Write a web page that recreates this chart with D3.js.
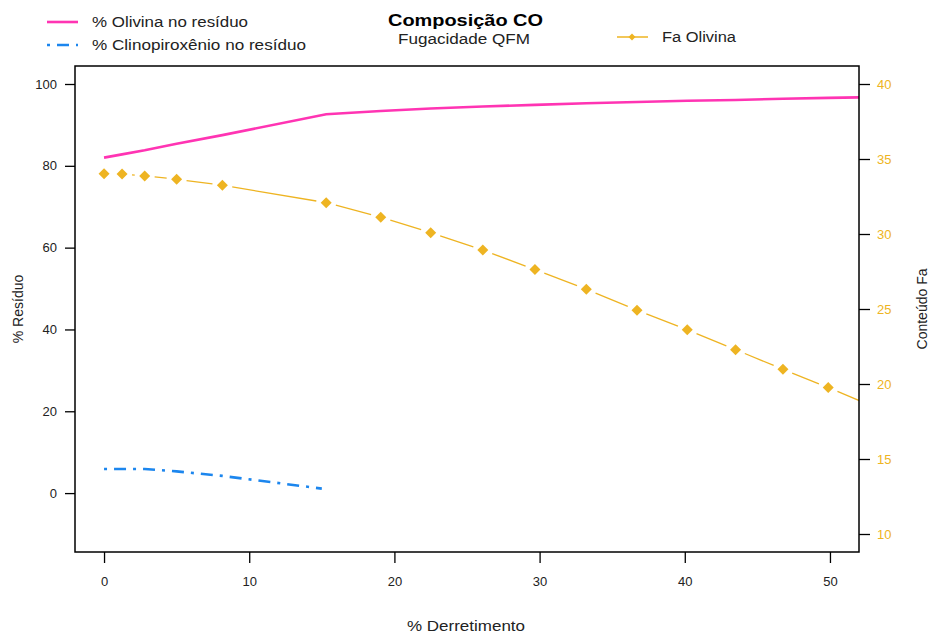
<!DOCTYPE html>
<html><head><meta charset="utf-8">
<script src="https://cdn.jsdelivr.net/npm/d3@7"></script>
<style>
body{margin:0;background:#fff;}
svg{display:block;font-family:"Liberation Sans",Arial,sans-serif;}
</style></head>
<body><svg id="c" width="930" height="634"></svg>
<script>
// ---- data ----
const meltPct = [0, 1.24, 2.8, 5.0, 8.15, 15.3, 19.06, 22.5, 26.09, 29.68, 33.22, 36.71, 40.17, 43.5, 46.76, 49.88, 53.0];
const olivinePct = [82.0, 82.8, 83.8, 85.4, 87.5, 92.6, 93.4, 94.0, 94.5, 94.9, 95.3, 95.6, 95.9, 96.1, 96.4, 96.6, 96.8];
const cpxMelt = [0, 1.24, 2.8, 5.0, 8.15, 15.0];
const cpxPct = [5.9, 5.9, 5.9, 5.3, 4.2, 1.1];
const faOlivine = [34.02, 34.0, 33.87, 33.65, 33.25, 32.09, 31.12, 30.09, 28.93, 27.63, 26.32, 24.92, 23.61, 22.29, 20.98, 19.76, 18.5];
const xTicks = [0, 10, 20, 30, 40, 50];
const yLeftTicks = [0, 20, 40, 60, 80, 100];
const yRightTicks = [10, 15, 20, 25, 30, 35, 40];
const legendLeft = ["% Olivina no resíduo", "% Clinopiroxênio no resíduo"];
const legendRight = ["Fa Olivina"];
const titleText = "Composição CO";
const subtitleText = "Fugacidade QFM";
const xLabel = "% Derretimento";
const yLeftLabel = "% Resíduo";
const yRightLabel = "Conteúdo Fa";

const PINK = "#FF34B3", BLUE = "#1C86EE", GOLD = "#EEB422";

const svg = d3.select("#c");
const L = 75, R = 859, T = 66, B = 552;
const x = d3.scaleLinear().domain([-2, 52]).range([L, R]);
const yL = d3.scaleLinear().domain([-14.4, 104.4]).range([B, T]);
const yR = d3.scaleLinear().domain([8.8, 41.2]).range([B, T]);

svg.append("clipPath").attr("id", "clip").append("rect")
  .attr("x", L).attr("y", T).attr("width", R - L).attr("height", B - T);

const plot = svg.append("g").attr("clip-path", "url(#clip)");

// Olivine line
const oliv = meltPct.map((m, i) => [m, olivinePct[i]]);
plot.append("path").datum(oliv)
  .attr("d", d3.line().x(d => x(d[0])).y(d => yL(d[1])))
  .attr("fill", "none").attr("stroke", PINK).attr("stroke-width", 2.6);

// CPX line
const cpx = cpxMelt.map((m, i) => [m, cpxPct[i]]);
plot.append("path").datum(cpx)
  .attr("d", d3.line().x(d => x(d[0])).y(d => yL(d[1])))
  .attr("fill", "none").attr("stroke", BLUE).attr("stroke-width", 2.6)
  .attr("stroke-dasharray", "3,7,12,7");

// Fa Olivine, type "b"
const fa = meltPct.map((m, i) => [x(m), yR(faOlivine[i])]);
const gap = 10;
for (let i = 0; i < fa.length - 1; i++) {
  const [x1, y1] = fa[i], [x2, y2] = fa[i + 1];
  const dx = x2 - x1, dy = y2 - y1, len = Math.hypot(dx, dy);
  if (len <= 2 * gap) continue;
  const ux = dx / len, uy = dy / len;
  plot.append("line")
    .attr("x1", x1 + ux * gap).attr("y1", y1 + uy * gap)
    .attr("x2", x2 - ux * gap).attr("y2", y2 - uy * gap)
    .attr("stroke", GOLD).attr("stroke-width", 1.3);
}
const diamond = "M0,-5.5L5.5,0L0,5.5L-5.5,0Z";
plot.selectAll("path.pt").data(fa).join("path").attr("class", "pt")
  .attr("d", diamond).attr("transform", d => `translate(${d[0]},${d[1]})`)
  .attr("fill", GOLD);

// box
svg.append("rect").attr("x", L).attr("y", T).attr("width", R - L).attr("height", B - T)
  .attr("fill", "none").attr("stroke", "#000").attr("stroke-width", 1.5);

// axes
const fs = "13px";
const gx = svg.append("g").attr("transform", `translate(0,${B})`)
  .call(d3.axisBottom(x).tickValues(xTicks).tickSize(11).tickPadding(14));
const gl = svg.append("g").attr("transform", `translate(${L},0)`)
  .call(d3.axisLeft(yL).tickValues(yLeftTicks).tickSize(10).tickPadding(8));
const gr = svg.append("g").attr("transform", `translate(${R},0)`)
  .call(d3.axisRight(yR).tickValues(yRightTicks).tickSize(11).tickPadding(7));
[gx, gl, gr].forEach(g => {
  g.select(".domain").remove();
  g.selectAll("text").attr("font-size", fs).attr("font-family", "Liberation Sans, Arial, sans-serif").attr("fill", "#222");
  g.selectAll("line").attr("stroke", "#000").attr("stroke-width", 1.3);
});
gr.selectAll("text").attr("fill", GOLD);

function hText(sel, len) {
  return sel.attr("textLength", len).attr("lengthAdjust", "spacingAndGlyphs");
}

// axis titles
hText(svg.append("text").attr("x", (L + R) / 2 - 1).attr("y", 631).attr("text-anchor", "middle")
  .attr("font-size", "14px").attr("fill", "#222").text(xLabel), 118);
svg.append("text").attr("transform", `translate(23,${(T + B) / 2}) rotate(-90)`).attr("text-anchor", "middle")
  .attr("font-size", "14px").attr("fill", "#222").text(yLeftLabel);
svg.append("text").attr("transform", `translate(927,${(T + B) / 2}) rotate(-90)`).attr("text-anchor", "middle")
  .attr("font-size", "14px").attr("fill", "#222").text(yRightLabel);

// title
hText(svg.append("text").attr("x", 465.5).attr("y", 26).attr("text-anchor", "middle")
  .attr("font-size", "16px").attr("font-weight", "bold").attr("fill", "#000").text(titleText), 155);
hText(svg.append("text").attr("x", 464).attr("y", 44).attr("text-anchor", "middle")
  .attr("font-size", "14px").attr("fill", "#222").text(subtitleText), 132);

// legends
const leg = svg.append("g");
const legY = [22, 45];
const legLen = [156, 214];
const legStyle = [{c: PINK, dash: null}, {c: BLUE, dash: "3,7,12,7"}];
legendLeft.forEach((t, i) => {
  leg.append("line").attr("x1", 47).attr("x2", 78).attr("y1", legY[i]).attr("y2", legY[i])
    .attr("stroke", legStyle[i].c).attr("stroke-width", 2.6)
    .attr("stroke-dasharray", legStyle[i].dash);
  hText(leg.append("text").attr("x", 92).attr("y", legY[i] + 5).attr("font-size", "14px").attr("fill", "#222").text(t), legLen[i]);
});
leg.append("line").attr("x1", 617).attr("x2", 648).attr("y1", 37).attr("y2", 37)
  .attr("stroke", GOLD).attr("stroke-width", 1.5);
leg.append("path").attr("d", "M0,-3.5L3.5,0L0,3.5L-3.5,0Z").attr("transform", "translate(632,37)").attr("fill", GOLD);
hText(leg.append("text").attr("x", 662).attr("y", 42).attr("font-size", "14px").attr("fill", "#222").text(legendRight[0]), 74);
</script></body></html>
